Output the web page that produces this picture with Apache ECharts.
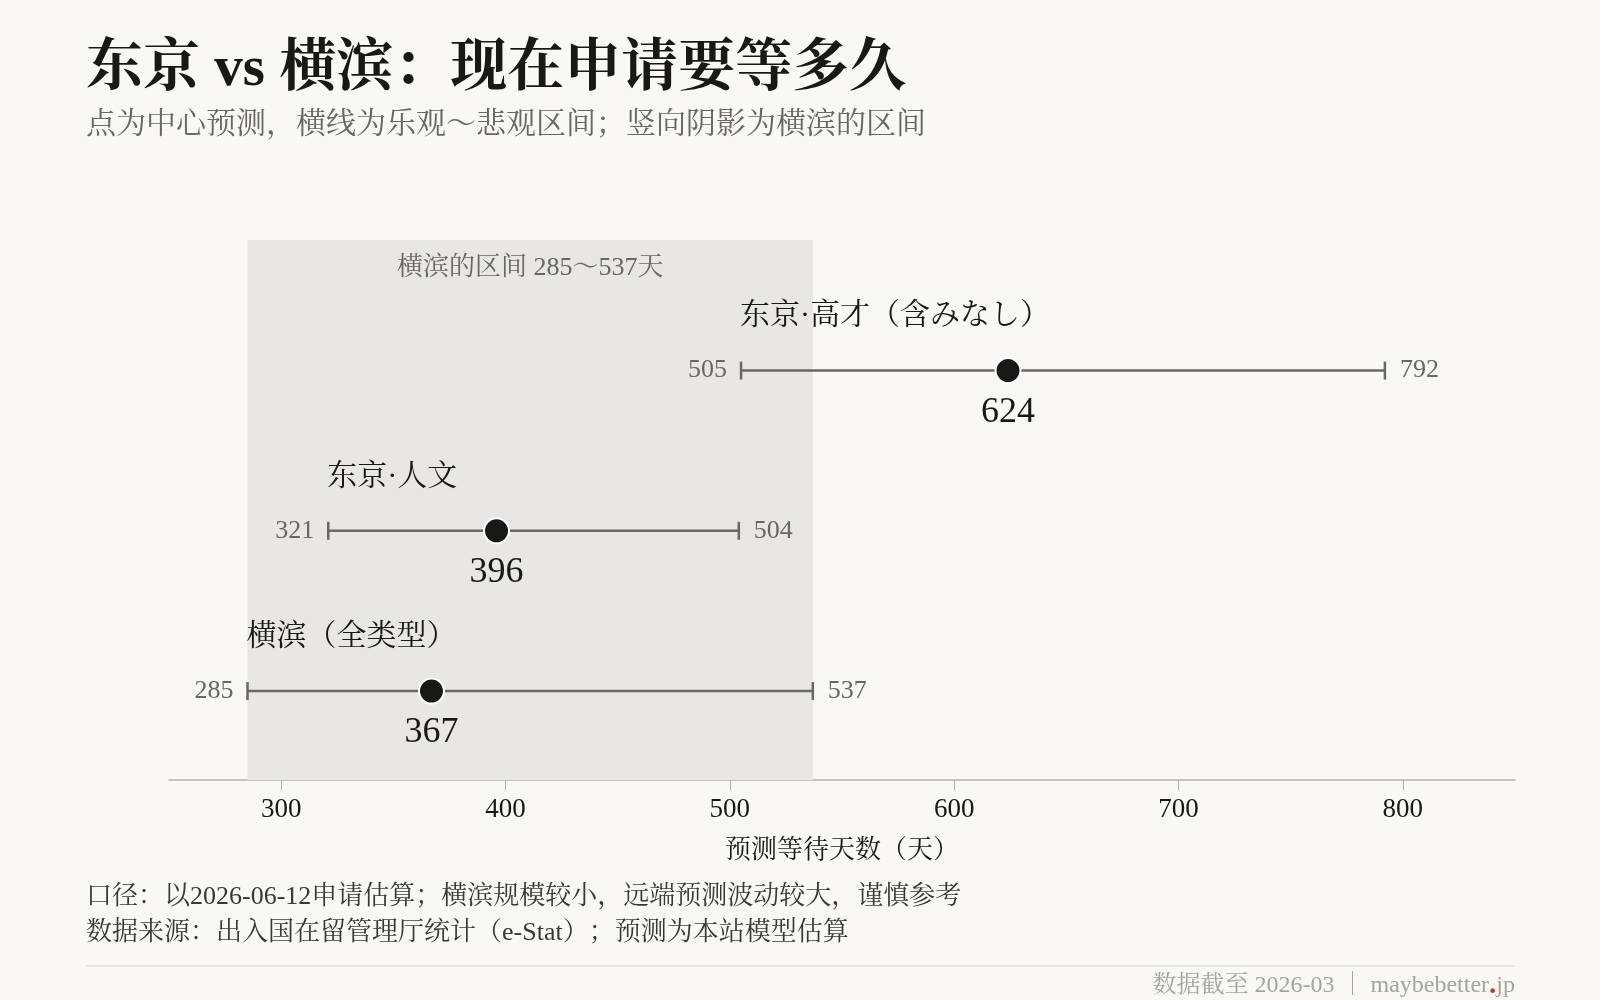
<!DOCTYPE html>
<html>
<head>
<meta charset="utf-8">
<script src="https://cdn.jsdelivr.net/npm/echarts@6/dist/echarts.min.js"></script>
<style>
html,body{margin:0;padding:0;background:#f9f8f4;}
#chart{width:1600px;height:1000px;}
</style>
</head>
<body>
<div id="chart"></div>
<script>
// ---- data ----
const categories = ['横滨（全类型）', '东京·人文', '东京·高才（含みなし）'];
const lows = [285, 321, 505];
const centers = [367, 396, 624];
const highs = [537, 504, 792];
const xTicks = [300, 400, 500, 600, 700, 800];
const shadeRange = [285, 537];

const titleText = '东京 vs 横滨：现在申请要等多久';
const subtitleText = '点为中心预测，横线为乐观～悲观区间；竖向阴影为横滨的区间';
const axisName = '预测等待天数（天）';
const notes = ['口径：以2026-06-12申请估算；横滨规模较小，远端预测波动较大，谨慎参考',
               '数据来源：出入国在留管理厅统计（e-Stat）；预测为本站模型估算'];

const FONT = "'Liberation Serif', 'Noto Serif CJK SC', 'Noto Sans CJK SC', serif";
const GRAY = '#6b6660';
const DARK = '#1a1815';
const Y_MIN = -0.555, Y_MAX = 2.815;

const chart = echarts.init(document.getElementById('chart'), null, {renderer: 'canvas'});

const barData = categories.map((c, i) => [lows[i], highs[i], i]);
const dotData = categories.map((c, i) => [centers[i], i]);

const option = {
  backgroundColor: '#f9f8f4',
  animation: false,
  textStyle: {fontFamily: FONT},
  grid: {left: 169, right: 85, top: 240, bottom: 220},
  xAxis: {
    type: 'value', min: 250, max: 850,
    name: axisName, nameLocation: 'middle', nameGap: 58,
    nameTextStyle: {fontSize: 26, color: DARK, fontFamily: FONT},
    axisLine: {show: true, onZero: false, lineStyle: {color: '#b5b1aa', width: 1.5}},
    axisTick: {show: true, length: 10, customValues: xTicks, lineStyle: {color: '#b0aca5', width: 1}},
    axisLabel: {customValues: xTicks, fontSize: 27, color: DARK, margin: 16, fontFamily: FONT},
    splitLine: {show: false}
  },
  yAxis: {
    type: 'value', min: Y_MIN, max: Y_MAX, show: false
  },
  series: [
    {
      type: 'custom',
      z: 3,
      data: barData,
      markArea: {
        silent: true,
        itemStyle: {color: '#e8e7e3', opacity: 1},
        label: {
          show: true, position: 'insideTop', distance: 15,
          formatter: '横滨的区间 ' + shadeRange[0] + '～' + shadeRange[1] + '天',
          fontSize: 26, color: GRAY, fontFamily: FONT
        },
        data: [[{xAxis: shadeRange[0], yAxis: Y_MIN}, {xAxis: shadeRange[1], yAxis: Y_MAX}]]
      },
      renderItem: function (params, api) {
        const idx = params.dataIndex;
        const lo = api.coord([api.value(0), api.value(2)]);
        const hi = api.coord([api.value(1), api.value(2)]);
        const y = lo[1];
        const ls = {stroke: '#6b6761', lineWidth: 2.5};
        return {
          type: 'group',
          children: [
            {type: 'line', shape: {x1: lo[0], y1: y, x2: hi[0], y2: y}, style: ls},
            {type: 'line', shape: {x1: lo[0], y1: y - 9, x2: lo[0], y2: y + 9}, style: ls},
            {type: 'line', shape: {x1: hi[0], y1: y - 9, x2: hi[0], y2: y + 9}, style: ls},
            {type: 'text', x: lo[0] - 14, y: y, style: {text: String(api.value(0)), align: 'right', verticalAlign: 'middle', fontSize: 26, fontFamily: FONT, fill: GRAY}},
            {type: 'text', x: hi[0] + 15, y: y, style: {text: String(api.value(1)), align: 'left', verticalAlign: 'middle', fontSize: 26, fontFamily: FONT, fill: GRAY}},
            {type: 'text', x: lo[0] - 1, y: y - 54, style: {text: categories[idx], align: 'left', verticalAlign: 'middle', fontSize: 30, fontFamily: FONT, fill: DARK}}
          ]
        };
      }
    },
    {
      type: 'scatter',
      z: 5,
      data: dotData,
      symbol: 'circle',
      symbolSize: 25,
      itemStyle: {color: DARK, borderColor: '#ffffff', borderWidth: 2, opacity: 1},
      label: {
        show: true, position: 'bottom', distance: 10,
        formatter: p => String(p.value[0]),
        fontSize: 36, color: DARK, fontFamily: FONT
      }
    }
  ],
  graphic: [
    {type: 'text', left: 86, top: 42, style: {text: titleText, fontSize: 57, fontWeight: 'bold', fontFamily: FONT, fill: DARK}},
    {type: 'text', left: 86, top: 110, style: {text: subtitleText, fontSize: 30, fontFamily: FONT, fill: GRAY}},
    {type: 'text', left: 86, top: 884, style: {text: notes[0], fontSize: 26, fontFamily: FONT, fill: '#3a3835'}},
    {type: 'text', left: 86, top: 920, style: {text: notes[1], fontSize: 26, fontFamily: FONT, fill: '#3a3835'}},
    {type: 'line', shape: {x1: 86, y1: 966, x2: 1515, y2: 966}, style: {stroke: '#e6e2da', lineWidth: 1.5}},
    {type: 'text', right: 85, top: 971, style: {
      text: '数据截至 2026-03 ｜ maybebetter{r|.}jp',
      fontSize: 24, fontFamily: FONT, fill: '#a8a39c',
      rich: {r: {fontSize: 29, fontFamily: FONT, fill: '#c0392b', fontWeight: 'bold'}}
    }}
  ]
};
chart.setOption(option);
</script>
</body>
</html>
